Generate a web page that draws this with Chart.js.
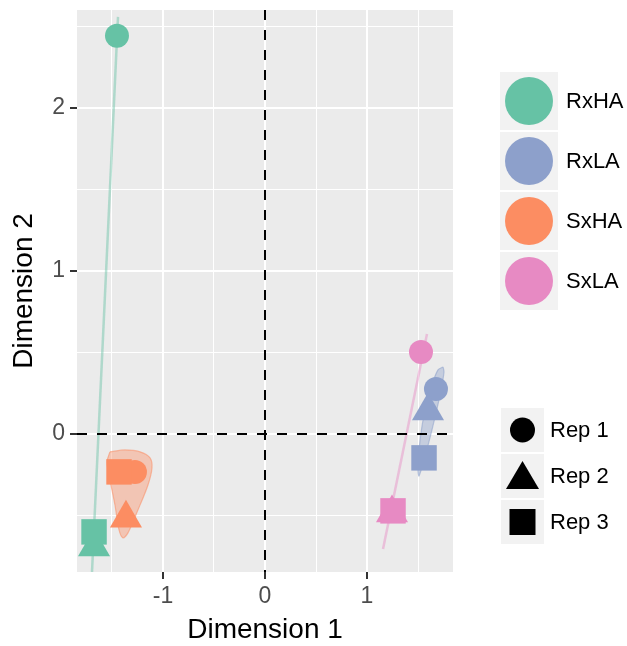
<!DOCTYPE html>
<html>
<head>
<meta charset="utf-8">
<script src="https://cdn.jsdelivr.net/npm/chart.js@4.4.1/dist/chart.umd.min.js"></script>
<style>
  body { margin: 0; background: #fff; font-family: "Liberation Sans", Arial, sans-serif; }
  #wrap { position: relative; width: 627px; height: 646px; }
  .key { position: absolute; background: #F2F2F2; }
  .lab { position: absolute; font-size: 22px; color: #000; white-space: nowrap; }
  .key svg { position: absolute; left: 0; top: 0; }
</style>
</head>
<body>
<div id="wrap">
  <canvas id="mds"></canvas>
  <div id="legend"></div>
</div>
<script>
// axis limits and ticks
const xMin = -1.843, xMax = 1.843;
const yMin = -0.847, yMax = 2.60;
const xTicks = [-1.5, -1, -0.5, 0, 0.5, 1, 1.5];
const yTicks = [-0.5, 0, 0.5, 1, 1.5, 2, 2.5];

// groups / replicates
const groups = ['RxHA', 'RxLA', 'SxHA', 'SxLA'];
const groupColors = ['#66C2A5', '#8DA0CB', '#FC8D62', '#E78AC3'];
const reps = ['Rep 1', 'Rep 2', 'Rep 3'];
const repShapes = ['circle', 'triangle', 'rect'];

// MDS coordinates (Rep 1, Rep 2, Rep 3)
const rxhaDim1 = [-1.451, -1.676, -1.676];
const rxhaDim2 = [2.442, -0.693, -0.601];
const rxlaDim1 = [1.676, 1.598, 1.559];
const rxlaDim2 = [0.276, 0.141, -0.147];
const sxhaDim1 = [-1.275, -1.363, -1.431];
const sxhaDim2 = [-0.233, -0.518, -0.233];
const sxlaDim1 = [1.529, 1.245, 1.255];
const sxlaDim2 = [0.503, -0.485, -0.472];

// ellipse outlines
const rxhaEllX = [-1.441, -1.696];
const rxhaEllY = [2.558, -0.847];
const sxlaEllX = [1.588, 1.157];
const sxlaEllY = [0.613, -0.706];
const sxhaEllX = [-1.520, -1.373, -1.225, -1.127, -1.108, -1.147, -1.245, -1.343, -1.392, -1.431, -1.471, -1.520, -1.549, -1.520];
const sxhaEllY = [-0.110, -0.098, -0.110, -0.147, -0.209, -0.313, -0.466, -0.607, -0.638, -0.589, -0.436, -0.282, -0.172, -0.110];
const rxlaEllX = [1.745, 1.755, 1.716, 1.637, 1.559, 1.510, 1.500, 1.520, 1.569, 1.647, 1.696, 1.745];
const rxlaEllY = [0.411, 0.380, 0.239, 0.025, -0.160, -0.258, -0.221, -0.037, 0.147, 0.319, 0.393, 0.411];

const toPts = (xs, ys) => xs.map((x, i) => ({x: x, y: ys[i]}));
const alpha = (hex, a) => {
    const n = parseInt(hex.slice(1), 16);
    return `rgba(${n >> 16}, ${(n >> 8) & 255}, ${n & 255}, ${a})`;
};

function pointSet(label, xs, ys, color) {
    return {
        label: label,
        data: toPts(xs, ys),
        backgroundColor: color,
        borderWidth: 0,
        pointStyle: repShapes,
        pointRadius: [12, 18.5, 18],
        pointHoverRadius: [12, 18.5, 18],
        order: 0
    };
}

function lineSet(xs, ys, color) {
    return {
        data: toPts(xs, ys),
        showLine: true,
        pointRadius: 0,
        borderColor: alpha(color, 0.45),
        borderWidth: 2.5,
        fill: false,
        order: 2
    };
}

function blobSet(xs, ys, color) {
    return {
        data: toPts(xs, ys),
        showLine: true,
        pointRadius: 0,
        borderColor: alpha(color, 0.55),
        backgroundColor: alpha(color, 0.4),
        borderWidth: 1.2,
        tension: 0.3,
        fill: 'shape',
        order: 2
    };
}

const zeroLine = {
    borderColor: '#000',
    borderWidth: 2,
    borderDash: [10, 10],
    showLine: true,
    pointRadius: 0,
    fill: false,
    order: 1
};

// grey panel behind the plot
const panelBg = {
    id: 'panelBg',
    beforeDraw(chart) {
        const {ctx, chartArea: a} = chart;
        ctx.save();
        ctx.fillStyle = '#EBEBEB';
        ctx.fillRect(a.left, a.top, a.right - a.left, a.bottom - a.top);
        ctx.restore();
    }
};

const gridWidth = ctx => Number.isInteger(ctx.tick.value) ? 2 : 1;
const tickCol = ctx => Number.isInteger(ctx.tick.value) ? '#333333' : 'rgba(0,0,0,0)';

new Chart(document.getElementById('mds'), {
    type: 'scatter',
    data: {
        datasets: [
            pointSet(groups[0], rxhaDim1, rxhaDim2, groupColors[0]),
            pointSet(groups[1], rxlaDim1, rxlaDim2, groupColors[1]),
            pointSet(groups[2], sxhaDim1, sxhaDim2, groupColors[2]),
            pointSet(groups[3], sxlaDim1, sxlaDim2, groupColors[3]),
            Object.assign({data: [{x: xMin, y: 0}, {x: xMax, y: 0}]}, zeroLine),
            Object.assign({data: [{x: 0, y: yMax}, {x: 0, y: yMin}]}, zeroLine),
            lineSet(rxhaEllX, rxhaEllY, groupColors[0]),
            blobSet(rxlaEllX, rxlaEllY, groupColors[1]),
            blobSet(sxhaEllX, sxhaEllY, groupColors[2]),
            lineSet(sxlaEllX, sxlaEllY, groupColors[3])
        ]
    },
    options: {
        responsive: true,
        maintainAspectRatio: false,
        animation: false,
        events: [],
        layout: {
            autoPadding: false,
            padding: {left: 0, top: 10, right: 174, bottom: 0}
        },
        scales: {
            x: {
                type: 'linear',
                min: xMin,
                max: xMax,
                afterBuildTicks: s => { s.ticks = xTicks.map(v => ({value: v})); },
                afterFit: s => { s.height = 74; },
                border: {display: false},
                grid: {
                    color: '#FFFFFF',
                    lineWidth: gridWidth,
                    tickLength: 7,
                    tickColor: tickCol,
                    tickWidth: 2
                },
                ticks: {
                    padding: 4,
                    color: '#4D4D4D',
                    font: {family: '"Liberation Sans", Arial', size: 23},
                    callback: v => Number.isInteger(v) ? String(v) : ''
                },
                title: {
                    display: true,
                    text: 'Dimension 1',
                    color: '#000',
                    font: {family: '"Liberation Sans", Arial', size: 28, lineHeight: 1.1},
                    padding: {top: 0, bottom: 0}
                }
            },
            y: {
                type: 'linear',
                min: yMin,
                max: yMax,
                afterBuildTicks: s => { s.ticks = yTicks.map(v => ({value: v})); },
                afterFit: s => { s.width = 77; },
                border: {display: false},
                grid: {
                    color: '#FFFFFF',
                    lineWidth: gridWidth,
                    tickLength: 7,
                    tickColor: tickCol,
                    tickWidth: 2
                },
                ticks: {
                    padding: 5,
                    color: '#4D4D4D',
                    font: {family: '"Liberation Sans", Arial', size: 23, lineHeight: 0.4},
                    callback: v => Number.isInteger(v) ? String(v) : ''
                },
                title: {
                    display: true,
                    text: 'Dimension 2',
                    color: '#000',
                    font: {family: '"Liberation Sans", Arial', size: 28, lineHeight: 1.1},
                    padding: {top: 9, bottom: 0}
                }
            }
        },
        plugins: {
            legend: {display: false},
            tooltip: {enabled: false}
        }
    },
    plugins: [panelBg]
});

// ggplot style legends on the right
const legend = document.getElementById('legend');
let html = '';
groups.forEach((g, i) => {
    const top = 72 + i * 60;
    html += `<div class="key" style="left:500px;top:${top}px;width:58px;height:58px">
        <svg width="58" height="58"><circle cx="29" cy="29" r="24" fill="${groupColors[i]}"/></svg></div>
        <div class="lab" style="left:566px;top:${top}px;line-height:58px">${g}</div>`;
});
const shapeSvg = [
    '<circle cx="21.5" cy="22" r="12.5" fill="#000"/>',
    '<polygon points="21.5,7 38,35 5,35" fill="#000"/>',
    '<rect x="8.5" y="9" width="26" height="26" fill="#000"/>'
];
reps.forEach((r, i) => {
    const top = 408 + i * 46;
    html += `<div class="key" style="left:501px;top:${top}px;width:43px;height:44px">
        <svg width="43" height="44">${shapeSvg[i]}</svg></div>
        <div class="lab" style="left:550px;top:${top}px;line-height:44px">${r}</div>`;
});
legend.innerHTML = html;
</script>
</body>
</html>
